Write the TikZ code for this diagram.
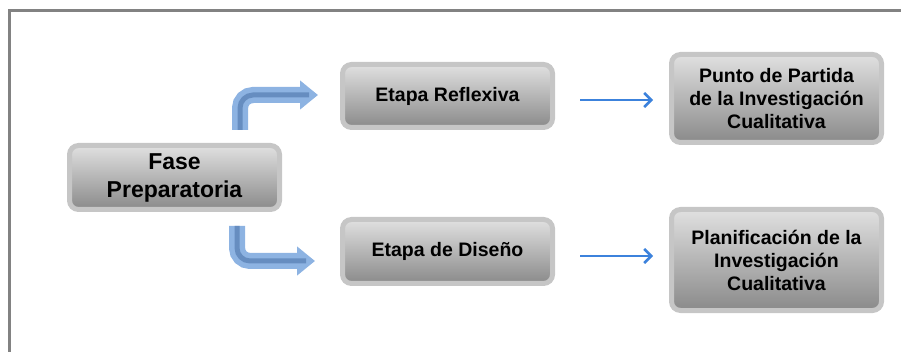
\documentclass[tikz,border=0pt]{standalone}
\usepackage{fontspec}
\setmainfont{Liberation Sans}
\usetikzlibrary{positioning,arrows.meta}

\definecolor{marco}{HTML}{828282}
\definecolor{azul}{HTML}{3C82DC}
\definecolor{tubo}{HTML}{8DB3E2}
\definecolor{tubooscuro}{HTML}{668DC0}

\begin{document}
\begin{tikzpicture}[%
      x=1pt, y=-1pt,
      etapa/.style={rounded corners=9pt, draw=gray!45, line width=5pt,
        top color=gray!24, bottom color=gray!92, minimum width=210pt,
        align=center, text=black, font=\fontsize{19.5}{23}\selectfont\bfseries},
      flecha/.style={draw=azul, line width=2.5pt, -{Straight Barb[length=7pt,width=14pt]}},
      tuboext/.style={draw=tubo, line width=16pt, rounded corners=13pt,
        -{Triangle[length=18pt,width=28pt]}},
      tubomed/.style={draw=tubooscuro, line width=5pt, rounded corners=13pt, shorten >=9pt}
    ]
    \useasboundingbox (0,0) rectangle (901,352);
    % marco
    \draw[marco, line width=3pt] (9,360) -- (9,11) -- (910,11);

    \node [etapa, minimum height=64pt, font=\fontsize{23}{28}\selectfont\bfseries] (fase) at (174.5,177.5) {Fase\\Preparatoria};
    \node [etapa, minimum height=63pt] (reflexiva) at (447.5,96) {Etapa Reflexiva};
    \node [etapa, minimum height=64pt] (diseno) at (447.5,251.5) {Etapa de Diseño};
    \node [etapa, minimum height=88pt, right=114pt of reflexiva, yshift=-2.5pt] (punto) {Punto de Partida\\de la Investigación\\Cualitativa};
    \node [etapa, minimum height=101pt, right=114pt of diseno, yshift=-8.5pt] (plan) {Planificación de la\\Investigación\\Cualitativa};

    % flechas curvas
    \coordinate (t1) at (240,130);
    \coordinate (t2) at (318,95);
    \coordinate (b1) at (237,226);
    \coordinate (b2) at (315,261);
    \draw[tuboext] (t1) |- (t2);
    \draw[tubomed] (t1) |- (t2);
    \draw[tuboext] (b1) |- (b2);
    \draw[tubomed] (b1) |- (b2);

    \draw[flecha, shorten <=25pt, shorten >=16pt] ([yshift=-4pt]reflexiva.east) -- ([yshift=-4pt]reflexiva.east -| punto.west);
    \draw[flecha, shorten <=25pt, shorten >=16pt] ([yshift=-4.5pt]diseno.east) -- ([yshift=-4.5pt]diseno.east -| plan.west);
\end{tikzpicture}
\end{document}
